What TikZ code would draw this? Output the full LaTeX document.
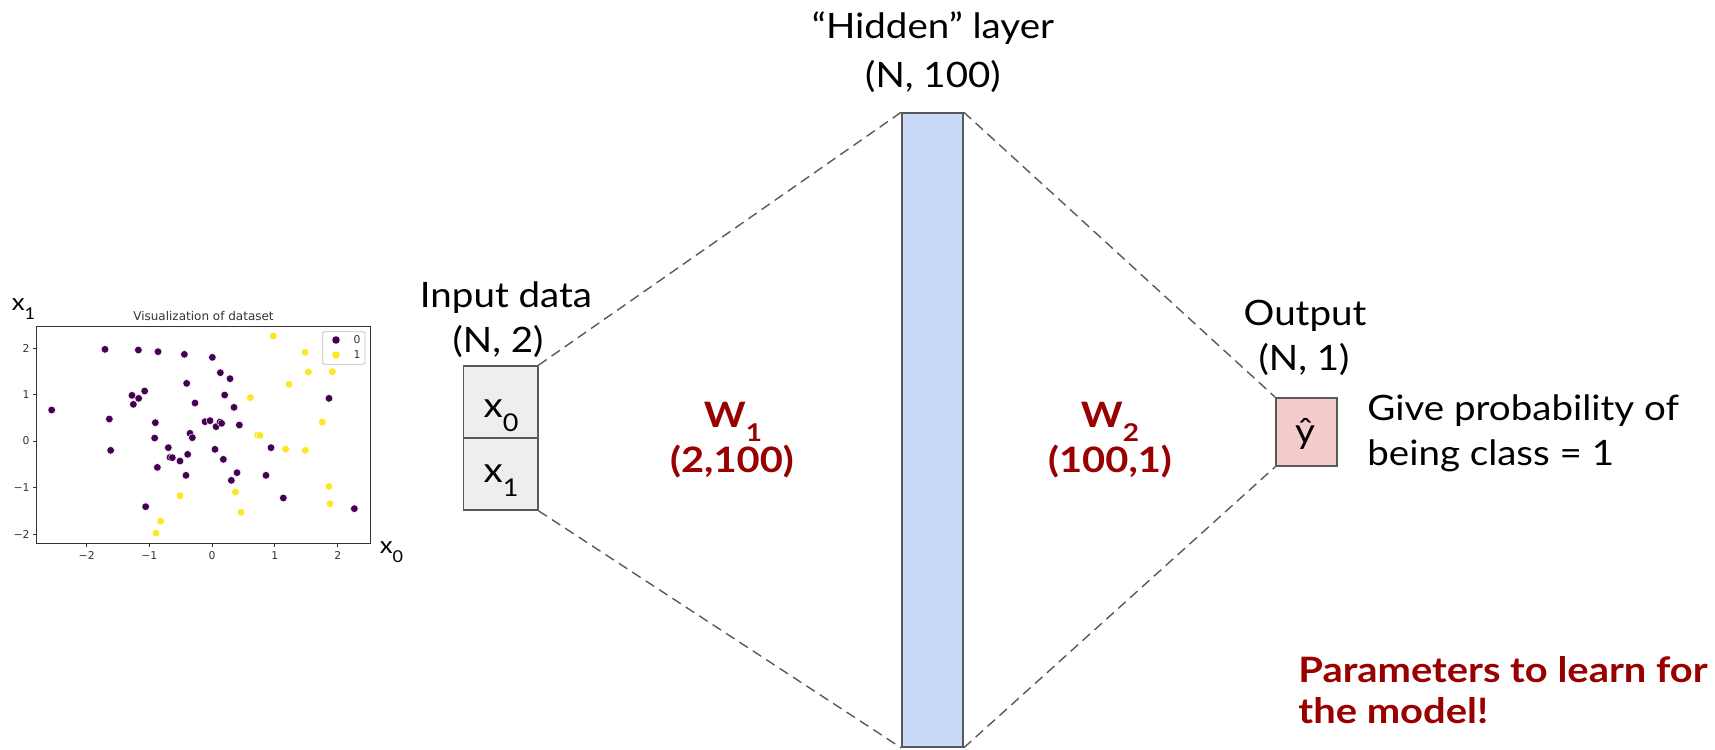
\documentclass[tikz,border=0pt]{standalone}
\usepackage{fontspec}
\usepackage{graphicx}
\setmainfont{Lato}[FakeStretch=1.1, BoldFeatures={FakeStretch=1.14}]
\newfontfamily\dv{DejaVu Sans}
\newcommand\lsub[1]{\raisebox{-0.4em}{\scalebox{0.7}{#1}}}
\definecolor{bordc}{HTML}{595959}
\definecolor{inpc}{HTML}{EEEEEE}
\definecolor{hidc}{HTML}{C9DAF8}
\definecolor{outc}{HTML}{F4CCCC}
\definecolor{redc}{HTML}{990000}
\definecolor{purp}{HTML}{440154}
\definecolor{yell}{HTML}{FDE725}
\definecolor{axc}{HTML}{333333}
\tikzset{
  txt/.style={font=\fontsize{17.5pt}{21pt}\selectfont, inner sep=0pt, anchor=base, text=black},
  redtxt/.style={font=\fontsize{17.5pt}{21pt}\selectfont\bfseries, inner sep=0pt, anchor=base, text=redc},
  cell/.style={draw=bordc, line width=0.8pt, fill=inpc, minimum width=37.2pt, minimum height=36pt, inner sep=0pt},
  hidbox/.style={draw=bordc, line width=0.8pt, fill=hidc, minimum width=30.5pt, minimum height=317pt, inner sep=0pt},
  outbox/.style={draw=bordc, line width=0.8pt, fill=outc, minimum width=30.5pt, minimum height=34pt, inner sep=0pt},
  conn/.style={draw=bordc, line width=0.7pt, dash pattern=on 5pt off 3pt},
  ticklab/.style={font=\dv\fontsize{5.4pt}{6pt}\selectfont, inner sep=0pt, text=axc},
  axlab/.style={font=\fontsize{11.7pt}{14pt}\selectfont, inner sep=0pt, anchor=base},
}
\begin{document}
\begin{tikzpicture}[x=0.5pt,y=-0.5pt]
\useasboundingbox (0,0) rectangle (1715,750);

% ---------- scatter plot ----------
\node[font=\dv\fontsize{6pt}{7pt}\selectfont, inner sep=0pt, anchor=base, text=axc] (ptitle) at (203.5,320) {Visualization of dataset};
\draw[axc, line width=0.4pt] (36.7,326) rectangle (370,543.3);
\foreach \xx/\lab in {86.7/−2,149.3/−1,212/0,274.7/1,337.7/2}{
  \draw[axc, line width=0.4pt] (\xx,543.3) -- (\xx,547);
  \node[ticklab, anchor=base] at (\xx,559.5) {\lab};
}
\foreach \yy/\lab in {348.3/2,394.7/1,441/0,487.7/−1,534.3/−2}{
  \draw[axc, line width=0.4pt] (36.7,\yy) -- (33,\yy);
  \node[ticklab, anchor=east] at (30,\yy) {\lab};
}
\begin{scope}[x=0.16667pt, y=-0.16667pt, shift={(0,810)}]
  \foreach \p in {(155,420),(315,238),(415,240),(474,245),(553,253),(637,262),(661,308),(690,326),
    (560,340),(434,363),(396,376),(416,385),(400,403),(674,375),(585,399),(702,412),(328,447),
    (466,458),(615,455),(630,452),(648,470),(660,456),(665,460),(718,465),(570,490),(577,503),
    (464,504),(332,541),(505,533),(645,538),(813,533),(510,562),(517,563),(540,573),(563,553),
    (670,568),(472,592),(558,616),(711,608),(694,631),(798,616),(850,684),(437,710),(1063,716),(987,385)}
    \fill[purp, draw=white, line width=0.2pt] \p circle[radius=1.9pt];
  \foreach \p in {(820,198),(915,247),(925,306),(997,305),(867,343),(751,383),(967,456),(773,495),
    (780,496),(857,537),(916,541),(987,649),(990,701),(706,666),(540,677),(723,727),(482,753),(468,789)}
    \fill[yell, draw=white, line width=0.2pt] \p circle[radius=1.9pt];
\end{scope}
% legend
\draw[black!25, line width=0.4pt, rounded corners=1pt] (322.7,331.7) rectangle (365,364.3);
\fill[purp] (336,340) circle[radius=1.9pt];
\fill[yell] (336,355) circle[radius=1.9pt];
\node[ticklab] (leg0) at (357,340) {0};
\node[ticklab] (leg1) at (357,355) {1};
% axis labels
\node[axlab, anchor=base west] (xa1) at (11.5,310) {x\lsub{1}};
\node[axlab, anchor=base west] (xa0) at (379.5,553) {x\lsub{0}};

% ---------- network ----------
\node[cell] (in0) at (500.5,402) {};
\node[cell] (in1) at (500.5,474) {};
\node[txt] (in0t) at (501,417) {x\lsub{0}};
\node[txt] (in1t) at (501,482) {x\lsub{1}};
\node[txt] (inlab1) at (506,307) {Input data};
\node[txt] (inlab2) at (498,352) {(N, 2)};

\node[hidbox] (hid) at (932.5,430) {};
\node[txt] (hidlab1) at (933,38) {“Hidden” layer};
\node[txt] (hidlab2) at (933,87) {(N, 100)};

\node[outbox] (out) at (1306.5,432) {};
\node[txt] (outt) at (1305,443) {ŷ};
\node[txt] (outlab1) at (1305,325) {Output};
\node[txt] (outlab2) at (1304,370) {(N, 1)};
\node[txt, anchor=base west] (give1) at (1367,420) {Give probability of};
\node[txt, anchor=base west] (give2) at (1367,465) {being class = 1};

\draw[conn] (in0.north east) -- (hid.north west);
\draw[conn] (in1.south east) -- (hid.south west);
\draw[conn] (hid.north east) -- (out.north west);
\draw[conn] (hid.south east) -- (out.south west);

\node[redtxt] (w1) at (733,427) {W\lsub{1}};
\node[redtxt] (w1d) at (732,472) {(2,100)};
\node[redtxt] (w2) at (1110,427) {W\lsub{2}};
\node[redtxt] (w2d) at (1110,472) {(100,1)};

\node[redtxt, anchor=base west] (par1) at (1298,682) {Parameters to learn for};
\node[redtxt, anchor=base west] (par2) at (1298,723) {the model!};
\end{tikzpicture}
\end{document}
